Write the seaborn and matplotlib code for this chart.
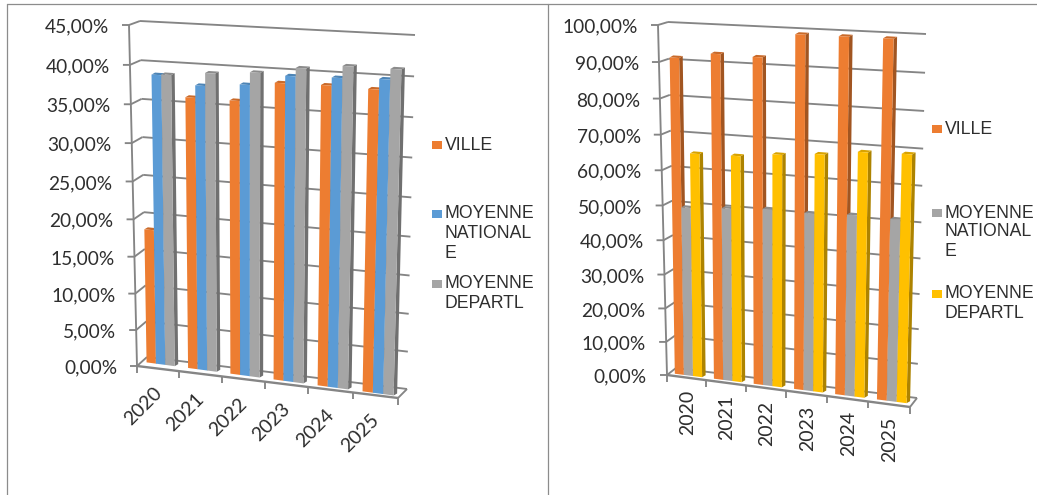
import numpy as np
import pandas as pd
import matplotlib
matplotlib.use("Agg")
import matplotlib.pyplot as plt
import seaborn as sns
from matplotlib.colors import to_rgb
from matplotlib.lines import Line2D
from matplotlib.patches import Polygon, Rectangle
from matplotlib.transforms import IdentityTransform, Transform

years = ["2020", "2021", "2022", "2023", "2024", "2025"]

left_ville = [18.3, 36.1, 36.1, 38.7, 38.8, 38.7]
left_nationale = [38.7, 37.7, 38.2, 39.65, 39.8, 40.0]
left_departl = [38.8, 39.35, 39.8, 40.7, 41.3, 41.3]
left_ticks = [0, 5, 10, 15, 20, 25, 30, 35, 40, 45]

right_ville = [91.0, 92.7, 92.5, 99.2, 99.3, 99.4]
right_nationale = [49.3, 50.1, 51.0, 50.9, 51.5, 51.4]
right_departl = [64.8, 65.1, 66.4, 67.4, 68.9, 69.3]
right_ticks = [0, 10, 20, 30, 40, 50, 60, 70, 80, 90, 100]

ORANGE, BLUE, GRAY, YELLOW = "#ED7D31", "#5B9BD5", "#A5A5A5", "#FFC000"
LINE = "#858585"
TEXT = "#2E2E2E"
W, H = 1037, 495


class PlaneTransform(Transform):
    """Maps (category, value) onto a tilted plane, output in display pixels."""
    input_dims = output_dims = 2
    is_separable = False
    has_inverse = False

    def __init__(self, xr, yr, corners):
        super().__init__()
        # corners in image pixels: bottom-left, bottom-right, top-right, top-left
        src = [(xr[0], yr[0]), (xr[1], yr[0]), (xr[1], yr[1]), (xr[0], yr[1])]
        A, b = [], []
        for (x, y), (u, v) in zip(src, corners):
            A.append([x, y, 1, 0, 0, 0, -u * x, -u * y])
            A.append([0, 0, 0, x, y, 1, -v * x, -v * y])
            b += [u, v]
        self.m = np.append(np.linalg.solve(np.array(A, float), np.array(b, float)), 1).reshape(3, 3)

    def transform_non_affine(self, values):
        v = np.asarray(values, float)
        p = np.column_stack([v, np.ones(len(v))]) @ self.m.T
        return np.column_stack([p[:, 0] / p[:, 2], H - p[:, 1] / p[:, 2]])


def shade(color, factor):
    return tuple(c * factor for c in to_rgb(color))


def panel(fig, series, colors, ticks, vmax, bar_width, back, front, bars,
          label_offset, rotation, tick_len, label_gap, legend):
    ax = fig.add_axes([0, 0, 1, 1])
    ax.set_axis_off()
    df = pd.DataFrame({
        "annee": years * len(series),
        "valeur": np.concatenate([v for _, v in series]),
        "serie": np.repeat([n for n, _ in series], len(years)),
    })
    sns.barplot(data=df, x="annee", y="valeur", hue="serie", hue_order=[n for n, _ in series],
                palette=colors, width=bar_width, gap=0, dodge=True, legend=False,
                saturation=1, errorbar=None, ax=ax)
    xr, yr = (-0.5, 5.5), (0, vmax)
    ax.set_xlim(*xr)
    ax.set_ylim(*yr)
    T_back = PlaneTransform(xr, yr, back)
    T_front = PlaneTransform(xr, yr, front)
    T_bars = PlaneTransform(xr, yr, bars)
    px = IdentityTransform()
    style = dict(color=LINE, lw=1.35, clip_on=False, solid_capstyle="butt", zorder=1)

    # back wall grid, side wall segments and value ticks
    for t in ticks:
        ax.plot(xr, [t, t], transform=T_back, **style)
        f = T_front.transform([[xr[0], t]])[0]
        b = T_back.transform([[xr[0], t]])[0]
        ax.add_line(Line2D([f[0] - tick_len, f[0], b[0]], [f[1], f[1], b[1]], transform=px, **style))
        ax.text(f[0] - tick_len - label_gap, f[1] - 2, f"{t},00%", transform=px, ha="right", va="center",
                fontsize=13.8, color=TEXT, family="Lato")

    # front axis, floor edges, category ticks and labels
    ax.plot([xr[0], xr[0]], yr, transform=T_front, **style)
    ax.plot(xr, [0, 0], transform=T_front, **{**style, "lw": 1.7})
    fr = T_front.transform([[xr[1], 0]])[0]
    br = T_back.transform([[xr[1], 0]])[0]
    ax.add_line(Line2D([fr[0], br[0]], [fr[1], br[1]], transform=px, **style))
    for k in np.arange(len(years) + 1) - 0.5:
        p = T_front.transform([[k, 0]])[0]
        ax.add_line(Line2D([p[0], p[0]], [p[1], p[1] - 7], transform=px, **style))
    for i, year in enumerate(years):
        p = T_front.transform([[i, 0]])[0]
        ax.text(p[0] + label_offset[0], p[1] - label_offset[1], year, transform=px, rotation=rotation,
                ha="center", va="center", rotation_mode="anchor", fontsize=14, color=TEXT, family="Lato")

    # bars: seaborn's rectangles go onto the tilted plane, depth faces are added to them
    dx, dy = 3.5, 2.0
    for j, cont in enumerate(ax.containers):
        for i, bar in enumerate(cont):
            x0, w, v = bar.get_x(), bar.get_width(), bar.get_height()
            z = 3 + i + j * 0.1
            bar.set_transform(T_bars)
            bar.set_clip_on(False)
            bar.set_linewidth(0)
            bar.set_zorder(z + 0.02)
            q = T_bars.transform([[x0, 0], [x0 + w, 0], [x0 + w, v], [x0, v]])
            side = [q[1], q[1] + (dx, dy), q[2] + (dx, dy), q[2]]
            top = [q[3], q[2], q[2] + (dx, dy), q[3] + (dx, dy)]
            ax.add_patch(Polygon(side, transform=px, fc=shade(colors[j], 0.68), lw=0, zorder=z, clip_on=False))
            ax.add_patch(Polygon(top, transform=px, fc=shade(colors[j], 0.85), lw=0, zorder=z + 0.01, clip_on=False))

    # legend entries: (swatch y, text lines with their y)
    for color, sy, lines, (sx, tx) in legend:
        ax.add_patch(Rectangle((sx, H - sy - 4), 10, 8, transform=px, fc=color, lw=0, clip_on=False))
        for txt, ty in lines:
            ax.text(tx, H - ty, txt, transform=px, ha="left", va="center", fontsize=12.7,
                    color=TEXT, family="Liberation Sans")


sns.set_theme(style="white")
plt.rcParams["font.family"] = ["Lato", "DejaVu Sans"]
fig = plt.figure(figsize=(W / 100, H / 100), dpi=100, facecolor="white")

panel(fig,
      [("VILLE", left_ville), ("MOYENNE NATIONALE", left_nationale), ("MOYENNE DEPARTL", left_departl)],
      [ORANGE, BLUE, GRAY], left_ticks, 45, 0.68,
      back=[(147, 357), (407, 389), (415, 35), (140, 21)],
      front=[(137, 366), (398, 398), (406, 43), (129, 25)],
      bars=[(140, 361.5), (401, 396.5), (410, 39), (134, 24)],
      label_offset=(-15, 38), rotation=45, tick_len=7, label_gap=13,
      legend=[(ORANGE, 145, [("VILLE", 145)], (432, 445)),
              (BLUE, 214, [("MOYENNE", 213), ("NATIONAL", 234), ("E", 253)], (432, 445)),
              (GRAY, 284, [("MOYENNE", 283), ("DEPARTL", 303)], (432, 445))])

panel(fig,
      [("VILLE", right_ville), ("MOYENNE NATIONALE", right_nationale), ("MOYENNE DEPARTL", right_departl)],
      [ORANGE, GRAY, YELLOW], right_ticks, 100, 0.7,
      back=[(676, 368), (917, 398), (926, 34), (668, 22)],
      front=[(667, 375), (910, 407), (917, 43), (658, 25)],
      bars=[(669, 373), (913, 404), (921.5, 38), (663, 24)],
      label_offset=(1, 35), rotation=90, tick_len=7, label_gap=13,
      legend=[(ORANGE, 129, [("VILLE", 129)], (932, 945)),
              (GRAY, 213, [("MOYENNE", 213), ("NATIONAL", 232), ("E", 251)], (932, 945)),
              (YELLOW, 294, [("MOYENNE", 294), ("DEPARTL", 313)], (932, 945))])

# outer frame and the divider between the two charts
for xs, ys in [((7, W), (3.5, 3.5)), ((7, 7), (3.5, H)), ((548, 548), (3.5, H))]:
    fig.add_artist(Line2D(xs, [H - y for y in ys], transform=IdentityTransform(), color="#8C8C8C", lw=0.9))

fig.savefig("out.png", dpi=100, facecolor="white")
